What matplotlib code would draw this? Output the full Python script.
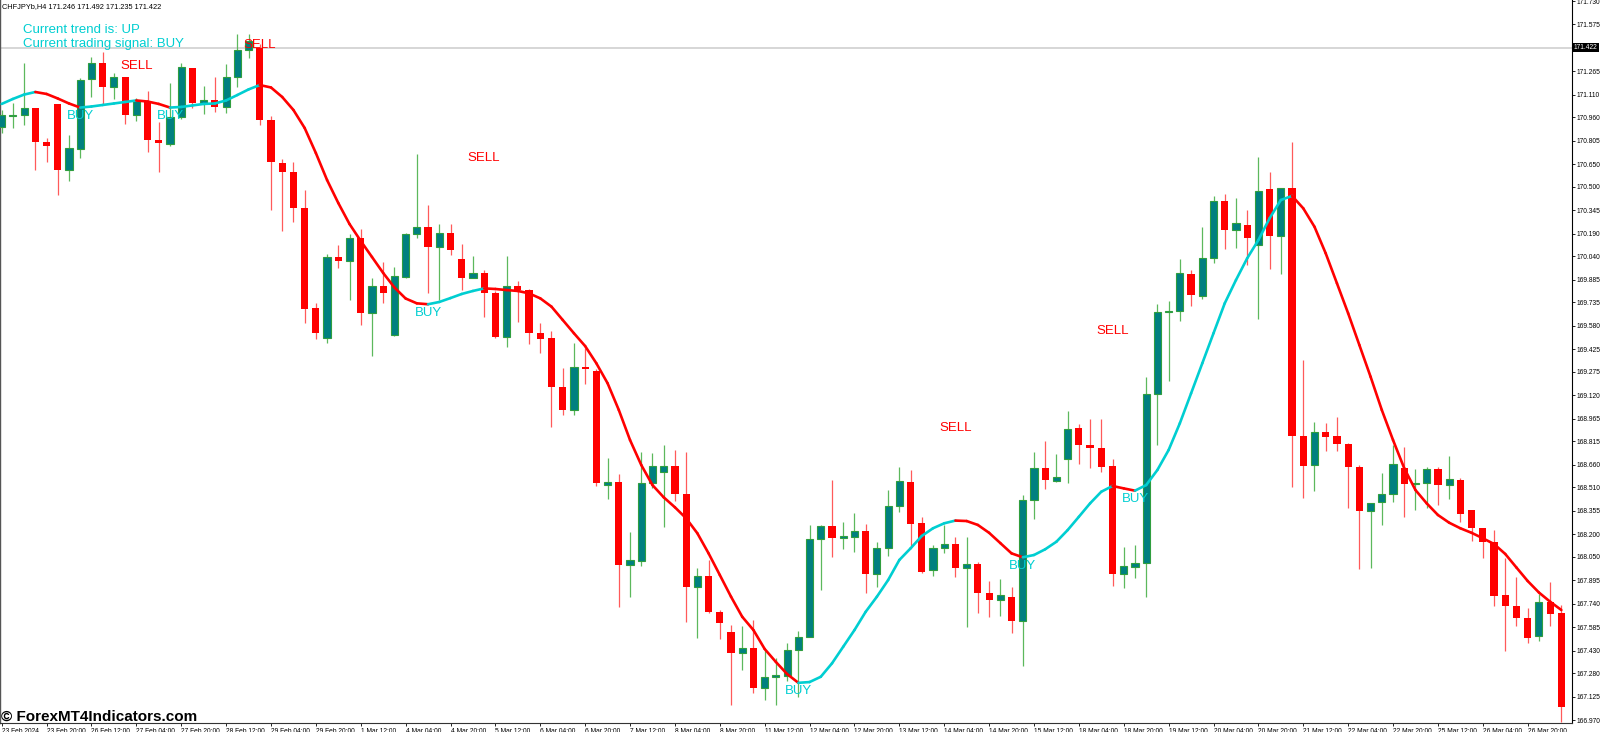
import numpy as np
import matplotlib.pyplot as plt
from matplotlib.collections import LineCollection
from matplotlib import transforms

plt.rcParams['font.family'] = ['Liberation Sans', 'DejaVu Sans']

# CHFJPY H4 candles
opens = [170.896, 170.967, 170.976, 171.024, 170.799, 171.049, 170.612, 170.751, 171.214, 171.320,
         171.161, 171.227, 170.976, 171.068, 170.810, 170.784, 170.962, 171.287, 171.055, 171.075,
         171.029, 171.227, 171.406, 171.419, 170.943, 170.660, 170.600, 170.362, 169.696, 169.497,
         170.038, 170.009, 170.159, 169.663, 169.844, 169.519, 169.905, 170.186, 170.236, 170.104,
         170.197, 170.020, 169.899, 169.928, 169.795, 169.508, 169.844, 169.817, 169.535, 169.497,
         169.173, 169.023, 169.309, 169.281, 168.526, 168.548, 167.997, 168.025, 168.542, 168.614,
         168.652, 168.465, 167.853, 167.924, 167.684, 167.555, 167.412, 167.447, 167.181, 167.257,
         167.259, 167.434, 167.522, 168.169, 168.255, 168.174, 168.184, 168.222, 167.937, 168.107,
         168.389, 168.548, 168.273, 167.964, 168.111, 168.134, 167.979, 168.001, 167.809, 167.765,
         167.787, 167.628, 168.427, 168.637, 168.555, 168.696, 168.902, 168.791, 168.773, 168.652,
         167.937, 167.985, 168.008, 169.129, 169.670, 169.678, 169.923, 169.779, 170.027, 170.406,
         170.214, 170.248, 170.115, 170.484, 170.177, 170.490, 168.851, 168.659, 168.879, 168.851,
         168.798, 168.647, 168.354, 168.412, 168.465, 168.637, 168.533, 168.542, 168.630, 168.526,
         168.559, 168.361, 168.240, 168.147, 167.798, 167.727, 167.648, 167.529, 167.754, 167.677]
highs = [171.009, 171.055, 171.320, 171.024, 170.823, 171.049, 170.843, 171.221, 171.360, 171.393,
         171.254, 171.227, 171.088, 171.135, 170.929, 171.188, 171.320, 171.287, 171.168, 171.227,
         171.313, 171.512, 171.512, 171.446, 170.969, 170.682, 170.667, 170.479, 169.729, 170.056,
         170.115, 170.186, 170.219, 169.895, 170.001, 169.971, 170.197, 170.718, 170.380, 170.252,
         170.252, 170.120, 170.042, 169.950, 169.813, 170.042, 169.877, 169.822, 169.601, 169.548,
         169.299, 169.468, 169.431, 169.292, 168.703, 168.599, 168.217, 168.747, 168.736, 168.791,
         168.758, 168.747, 167.975, 168.030, 167.699, 167.600, 167.593, 167.633, 167.441, 167.379,
         167.482, 167.563, 168.262, 168.262, 168.559, 168.279, 168.339, 168.268, 168.151, 168.493,
         168.647, 168.626, 168.313, 168.129, 168.262, 168.184, 168.180, 168.019, 167.893, 167.902,
         167.853, 168.460, 168.747, 168.820, 168.732, 169.016, 168.930, 168.963, 168.963, 168.696,
         168.118, 168.129, 169.243, 169.725, 169.744, 170.020, 169.950, 170.232, 170.440, 170.453,
         170.424, 170.347, 170.700, 170.598, 170.490, 170.799, 169.354, 168.941, 168.935, 168.978,
         168.802, 168.659, 168.409, 168.604, 168.791, 168.776, 168.630, 168.647, 168.643, 168.718,
         168.571, 168.361, 168.240, 168.228, 168.041, 167.919, 167.710, 167.805, 167.886, 167.732]
lows = [170.857, 170.890, 170.910, 170.612, 170.665, 170.446, 170.539, 170.691, 171.095, 171.049,
        171.082, 170.916, 170.936, 170.731, 170.598, 170.771, 170.949, 171.022, 170.982, 170.996,
        170.989, 171.161, 171.353, 170.910, 170.347, 170.210, 170.265, 169.597, 169.491, 169.464,
        169.961, 169.751, 169.586, 169.380, 169.729, 169.513, 169.895, 170.159, 169.795, 169.751,
        170.049, 169.817, 169.895, 169.637, 169.497, 169.440, 169.607, 169.460, 169.402, 168.912,
        168.990, 168.990, 169.195, 168.520, 168.432, 167.721, 167.787, 167.990, 168.504, 168.246,
        168.422, 167.621, 167.515, 167.677, 167.505, 167.070, 167.302, 167.147, 167.103, 167.067,
        167.226, 167.121, 167.520, 167.831, 168.048, 168.101, 168.085, 167.809, 167.849, 168.056,
        168.350, 168.107, 167.946, 167.924, 168.074, 167.919, 167.584, 167.677, 167.654, 167.659,
        167.545, 167.328, 168.299, 168.498, 168.548, 168.542, 168.663, 168.641, 168.614, 167.858,
        167.842, 167.909, 167.785, 168.791, 169.217, 169.612, 169.711, 169.756, 169.994, 170.087,
        170.093, 169.983, 169.625, 169.954, 169.923, 168.511, 168.442, 168.487, 168.753, 168.753,
        168.376, 167.968, 167.975, 168.262, 168.416, 168.316, 168.361, 168.376, 168.394, 168.432,
        168.283, 168.156, 168.045, 167.727, 167.427, 167.593, 167.482, 167.496, 167.595, 166.957]
closes = [170.976, 170.976, 171.024, 170.799, 170.771, 170.612, 170.757, 171.207, 171.320, 171.161,
          171.227, 170.976, 171.068, 170.810, 170.790, 170.962, 171.293, 171.055, 171.075, 171.029,
          171.227, 171.406, 171.466, 170.943, 170.665, 170.600, 170.358, 169.689, 169.531, 170.038,
          170.011, 170.159, 169.663, 169.844, 169.795, 169.912, 170.186, 170.236, 170.104, 170.197,
          170.082, 169.899, 169.928, 169.795, 169.508, 169.844, 169.817, 169.535, 169.495, 169.177,
          169.023, 169.309, 169.292, 168.538, 168.548, 167.997, 168.030, 168.538, 168.652, 168.652,
          168.465, 167.853, 167.924, 167.684, 167.611, 167.412, 167.449, 167.181, 167.257, 167.267,
          167.434, 167.522, 168.169, 168.255, 168.174, 168.189, 168.222, 167.937, 168.107, 168.389,
          168.553, 168.268, 167.952, 168.111, 168.134, 167.979, 168.001, 167.809, 167.765, 167.798,
          167.626, 168.427, 168.637, 168.559, 168.577, 168.897, 168.791, 168.769, 168.643, 167.937,
          167.992, 168.008, 169.129, 169.674, 169.678, 169.928, 169.784, 170.027, 170.406, 170.214,
          170.259, 170.159, 170.473, 170.175, 170.490, 168.851, 168.654, 168.879, 168.846, 168.796,
          168.647, 168.354, 168.409, 168.465, 168.663, 168.531, 168.542, 168.632, 168.526, 168.564,
          168.332, 168.240, 168.147, 167.794, 167.727, 167.644, 167.515, 167.754, 167.672, 167.059]

# trend line (cyan while rising, red while falling)
trend_line = [171.049, 171.082, 171.111, 171.128, 171.115, 171.085, 171.052, 171.025, 171.032, 171.042,
              171.052, 171.062, 171.072, 171.065, 171.049, 171.025, 171.029, 171.039, 171.049, 171.052,
              171.072, 171.108, 171.145, 171.174, 171.158, 171.095, 171.009, 170.890, 170.724, 170.545,
              170.393, 170.254, 170.142, 170.036, 169.930, 169.834, 169.761, 169.729, 169.723, 169.738,
              169.764, 169.791, 169.811, 169.828, 169.824, 169.817, 169.811, 169.795, 169.762, 169.707,
              169.619, 169.531, 169.446, 169.332, 169.200, 169.023, 168.824, 168.659, 168.526, 168.445,
              168.379, 168.306, 168.207, 168.074, 167.931, 167.787, 167.654, 167.566, 167.441, 167.355,
              167.275, 167.217, 167.222, 167.257, 167.346, 167.456, 167.566, 167.687, 167.787, 167.897,
              168.030, 168.107, 168.189, 168.240, 168.273, 168.291, 168.288, 168.262, 168.210, 168.142,
              168.074, 168.048, 168.063, 168.101, 168.151, 168.228, 168.316, 168.405, 168.482, 168.520,
              168.504, 168.489, 168.526, 168.626, 168.758, 168.935, 169.133, 169.332, 169.531, 169.729,
              169.883, 170.027, 170.148, 170.292, 170.413, 170.440, 170.358, 170.236, 170.060, 169.862,
              169.663, 169.453, 169.243, 169.023, 168.824, 168.637, 168.493, 168.405, 168.328, 168.277,
              168.240, 168.210, 168.174, 168.136, 168.070, 167.980, 167.891, 167.815, 167.754, 167.699]

buy_bars = [7, 15, 38, 71, 91, 101]
buy_levels = [170.969, 170.969, 169.668, 167.163, 167.990, 168.437]
sell_bars = [12, 23, 43, 85, 99]
sell_levels = [171.300, 171.439, 170.694, 168.907, 169.546]

current_price = 171.422
price_ticks = [171.730, 171.575, 171.265, 171.110, 170.960, 170.805, 170.650, 170.500, 170.345,
               170.190, 170.040, 169.885, 169.735, 169.580, 169.425, 169.275, 169.120, 168.965,
               168.815, 168.660, 168.510, 168.355, 168.200, 168.050, 167.895, 167.740, 167.585,
               167.430, 167.280, 167.125, 166.970]
date_labels = ['23 Feb 2024', '23 Feb 20:00', '26 Feb 12:00', '27 Feb 04:00', '27 Feb 20:00',
               '28 Feb 12:00', '29 Feb 04:00', '29 Feb 20:00', '1 Mar 12:00', '4 Mar 04:00',
               '4 Mar 20:00', '5 Mar 12:00', '6 Mar 04:00', '6 Mar 20:00', '7 Mar 12:00',
               '8 Mar 04:00', '8 Mar 20:00', '11 Mar 12:00', '12 Mar 04:00', '12 Mar 20:00',
               '13 Mar 12:00', '14 Mar 04:00', '14 Mar 20:00', '15 Mar 12:00', '18 Mar 04:00',
               '18 Mar 20:00', '19 Mar 12:00', '20 Mar 04:00', '20 Mar 20:00', '21 Mar 12:00',
               '22 Mar 04:00', '22 Mar 20:00', '25 Mar 12:00', '26 Mar 04:00', '26 Mar 20:00']

CYAN = '#00ced1'
RED = '#ff0000'

fig = plt.figure(figsize=(16, 7.32), dpi=100)
ax = fig.add_axes([0, 9 / 732, 1572 / 1600, 723 / 732])

o = np.array(opens)
h = np.array(highs)
l = np.array(lows)
c = np.array(closes)
idx = np.arange(len(o))
up = c >= o

ax.axhline(current_price, color='#cfcfcf', lw=1.2, zorder=1)

# wicks
ax.vlines(idx[up], l[up], h[up], color='#5cb85c', lw=0.9, zorder=2)
ax.vlines(idx[~up], l[~up], h[~up], color='#ff5a5a', lw=0.9, zorder=2)

# bodies
body = np.maximum(np.abs(c - o), 0.008)
bottom = np.minimum(o, c)
ax.bar(idx[up], body[up], bottom=bottom[up], width=0.64, color='#008080',
       edgecolor='#2f9e3f', linewidth=0.8, zorder=3)
ax.bar(idx[~up], body[~up], bottom=bottom[~up], width=0.64, color=RED,
       linewidth=0, zorder=3)

# two-colour trend line
tl = np.array(trend_line)
pts = np.column_stack([idx, tl])
segs = np.stack([pts[:-1], pts[1:]], axis=1)
seg_cols = [CYAN if tl[i + 1] > tl[i] else RED for i in range(len(tl) - 1)]
lc = LineCollection(segs, colors=seg_cols, linewidths=1.9, capstyle='round',
                    joinstyle='round', zorder=4)
ax.add_collection(lc)

for b, lv in zip(buy_bars, buy_levels):
    ax.text(b, lv, 'BUY', color=CYAN, fontsize=9.5, ha='center', va='center', zorder=5)
for b, lv in zip(sell_bars, sell_levels):
    ax.text(b, lv, 'SELL', color=RED, fontsize=9.5, ha='center', va='center', zorder=5)

ax.set_xlim(-0.15, 139.95)
ax.set_ylim(166.951, 171.737)

ax.yaxis.tick_right()
ax.set_yticks(price_ticks)
ax.set_yticklabels([f'{t:.3f}' for t in price_ticks])
ax.set_xticks(idx[::4][:len(date_labels)])
ax.set_xticklabels(date_labels)
for lab in ax.get_xticklabels():
    lab.set_ha('left')
ax.tick_params(axis='both', direction='out', length=2.5, width=0.6,
               labelsize=4.8, pad=1.0, colors='black')

ax.spines['top'].set_visible(False)
ax.spines['left'].set_color('#555555')
ax.spines['left'].set_linewidth(1.0)
ax.spines['right'].set_color('black')
ax.spines['right'].set_linewidth(0.8)
ax.spines['bottom'].set_color('#333333')
ax.spines['bottom'].set_linewidth(0.8)

# current price box on the axis
blend = transforms.blended_transform_factory(ax.transAxes, ax.transData)
ax.text(1.0 + 2 / 1572, current_price, f'{current_price:.3f}', transform=blend,
        ha='left', va='center', color='white', fontsize=4.8, clip_on=False,
        bbox=dict(facecolor='black', edgecolor='none', pad=0.8))

fig.text(2 / 1600, 1 - 8 / 732, 'CHFJPYb,H4 171.246 171.492 171.235 171.422',
         fontsize=5.3, color='black', va='baseline')
fig.text(23 / 1600, 1 - 33 / 732, 'Current trend is: UP', fontsize=9.5, color=CYAN, va='baseline')
fig.text(23 / 1600, 1 - 47 / 732, 'Current trading signal: BUY', fontsize=9.5, color=CYAN,
         va='baseline')
fig.text(1 / 1600, 1 - 721 / 732, '© ForexMT4Indicators.com', fontsize=11, fontweight='bold',
         color='black', va='baseline')

fig.savefig('out.png', dpi=100)
